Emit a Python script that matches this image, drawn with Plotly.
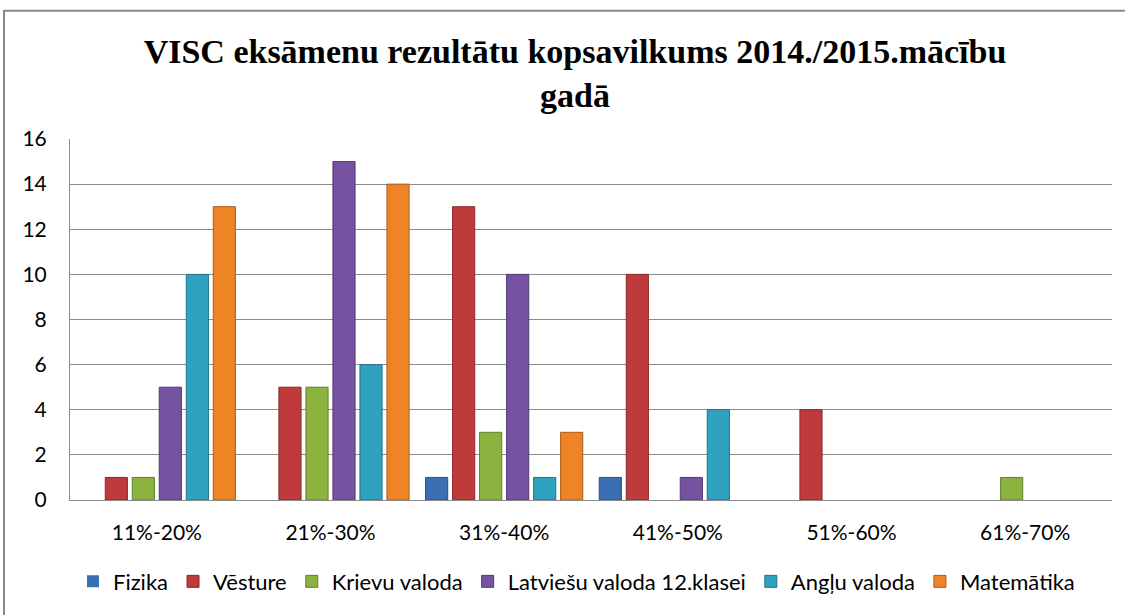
import plotly.graph_objects as go

categories = ["11%-20%", "21%-30%", "31%-40%", "41%-50%", "51%-60%", "61%-70%"]
series_names = ["Fizika", "Vēsture", "Krievu valoda", "Latviešu valoda 12.klasei", "Angļu valoda", "Matemātika"]
fizika = [0, 0, 1, 1, 0, 0]
vesture = [1, 5, 13, 10, 4, 0]
krievu = [1, 5, 3, 0, 0, 1]
latviesu = [5, 15, 10, 1, 0, 0]
anglu = [10, 6, 1, 4, 0, 0]
matematika = [13, 14, 3, 0, 0, 0]
y_ticks = [0, 2, 4, 6, 8, 10, 12, 14, 16]

series_values = [fizika, vesture, krievu, latviesu, anglu, matematika]
colors = ["#3b6fb4", "#bf3a3a", "#8cb23f", "#7553a0", "#2fa2c2", "#ee8425"]
edges = ["#2a4f82", "#8a2828", "#637f2c", "#523a72", "#217389", "#a95d1a"]

W, H = 1125, 615
L, R, T, B = 70, 13, 139, 113
pw = W - L - R
ph = H - T - B

fig = go.Figure()
for name, vals, c, e in zip(series_names, series_values, colors, edges):
    fig.add_trace(go.Bar(
        x=categories, y=vals, name=name,
        marker=dict(color=c, line=dict(color=e, width=[1 if v else 0 for v in vals])),
    ))

fig.update_layout(
    width=W, height=H,
    margin=dict(l=L, r=R, t=T, b=B),
    paper_bgcolor="white", plot_bgcolor="white",
    barmode="group", bargap=0.067, bargroupgap=0.18,
    font=dict(family="Lato", size=21, color="#000000"),
    title=dict(
        text="<b>VISC eksāmenu rezultātu kopsavilkums 2014./2015.mācību<br>gadā</b>",
        font=dict(family="Liberation Serif", size=34, color="#000000"),
        x=575 / W, xanchor="center", xref="container",
        y=1 - 63 / H, yanchor="top", yref="container",
    ),
    showlegend=True,
    legend=dict(
        orientation="h", x=(73 - L) / pw, xanchor="left",
        y=(ph - (584 - T)) / ph, yanchor="middle",
        font=dict(family="Lato", size=22, color="#000000"),
        bgcolor="rgba(0,0,0,0)", itemwidth=30,
        traceorder="normal",
    ),
)
fig.update_xaxes(
    showline=True, linecolor="#8c8c8c", linewidth=1,
    showgrid=False, ticks="", ticklabelstandoff=14,
    tickfont=dict(family="Lato", size=21),
)
fig.update_yaxes(
    range=[0, 16], tickvals=y_ticks, showgrid=True, gridcolor="#8c8c8c", gridwidth=1,
    showline=True, linecolor="#8c8c8c", linewidth=1, zeroline=False,
    ticks="", ticklabelstandoff=18, tickfont=dict(family="Lato", size=21),
)
# chart-area border
fig.add_shape(type="rect", xref="paper", yref="paper",
              x0=(4 - L) / pw, x1=(W + 10 - L) / pw,
              y0=(ph - (H + 10 - T)) / ph, y1=(ph - (10 - T)) / ph,
              line=dict(color="#878787", width=2), fillcolor="rgba(0,0,0,0)", layer="below")

fig.write_html("out.html", config={"displayModeBar": False},
               post_script="document.body.style.margin='0';")
